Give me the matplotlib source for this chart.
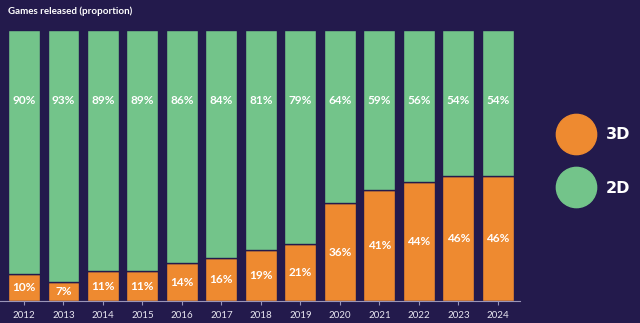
import matplotlib.pyplot as plt
from matplotlib.lines import Line2D

years = ['2012', '2013', '2014', '2015', '2016', '2017', '2018',
         '2019', '2020', '2021', '2022', '2023', '2024']
share_3d = [10, 7, 11, 11, 14, 16, 19, 21, 36, 41, 44, 46, 46]
share_2d = [90, 93, 89, 89, 86, 84, 81, 79, 64, 59, 56, 54, 54]

bg = '#231a4c'
orange = '#ee8a30'
green = '#73c48a'

plt.rcParams['font.family'] = ['Lato', 'DejaVu Sans']

fig = plt.figure(figsize=(6.4, 3.23), dpi=100, facecolor=bg)
ax = fig.add_axes([0, 0.068, 0.8125, 0.839], facecolor=bg)

x = range(len(years))
ax.bar(x, share_3d, width=0.81, color=orange, edgecolor=bg, linewidth=1)
ax.bar(x, [100 - v for v in share_3d], bottom=share_3d, width=0.81,
       color=green, edgecolor=bg, linewidth=1)

for i in x:
    ax.text(i, share_3d[i] / 2, f'{share_3d[i]}%', ha='center', va='center',
            color='white', fontsize=8.5, fontweight='bold')
    ax.text(i, 74, f'{share_2d[i]}%', ha='center', va='center',
            color='white', fontsize=8.5, fontweight='bold')

ax.set_xlim(-0.608, 12.56)
ax.set_ylim(0, 100)
ax.set_xticks(list(x))
ax.set_xticklabels(years)
ax.tick_params(axis='x', colors='#9a95b8', labelcolor='#e8e6f0', labelsize=7,
               length=3, width=0.8, pad=4)
ax.set_yticks([])
for side in ['top', 'right', 'left']:
    ax.spines[side].set_visible(False)
ax.spines['bottom'].set_color('#9a95b8')
ax.spines['bottom'].set_linewidth(0.8)

fig.text(0.0125, 0.965, 'Games released (proportion)', color='white',
         fontsize=7, fontweight='bold', va='center')

handles = [Line2D([], [], marker='o', linestyle='none', markersize=29,
                  markerfacecolor=orange, markeredgecolor=orange),
           Line2D([], [], marker='o', linestyle='none', markersize=29,
                  markerfacecolor=green, markeredgecolor=green)]
leg = fig.legend(handles, ['3D', '2D'], loc='center left',
                 bbox_to_anchor=(0.852, 0.5), frameon=False,
                 labelspacing=2.4, handletextpad=0.9, handlelength=2,
                 prop={'family': 'DejaVu Sans', 'weight': 'bold', 'size': 11.5},
                 labelcolor='white')

fig.savefig('out.png', dpi=100, facecolor=bg)
